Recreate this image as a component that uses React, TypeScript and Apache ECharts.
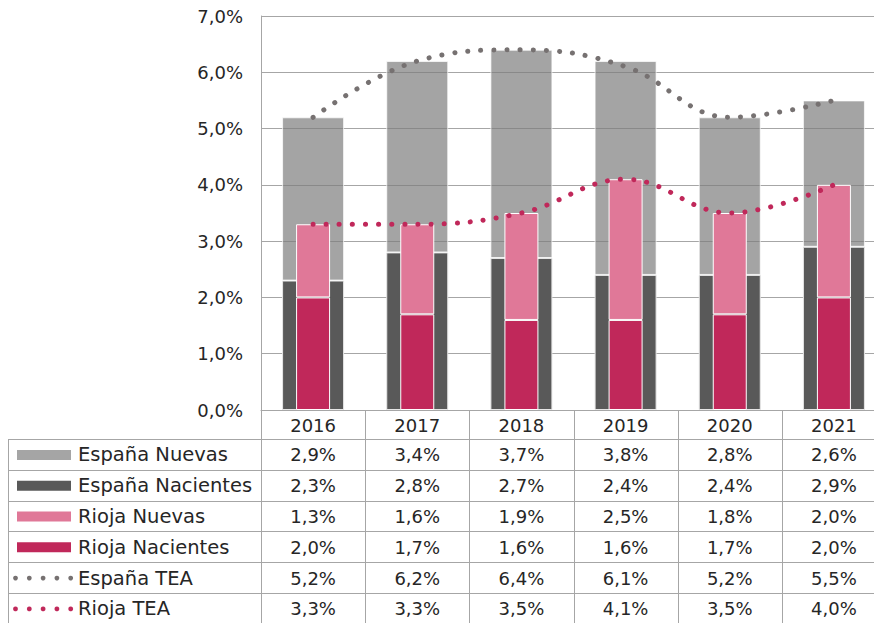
import React, { useEffect, useRef } from 'react';
import * as echarts from 'echarts';

const years = ['2016', '2017', '2018', '2019', '2020', '2021'];
const espanaNuevas = [2.9, 3.4, 3.7, 3.8, 2.8, 2.6];
const espanaNacientes = [2.3, 2.8, 2.7, 2.4, 2.4, 2.9];
const riojaNuevas = [1.3, 1.6, 1.9, 2.5, 1.8, 2.0];
const riojaNacientes = [2.0, 1.7, 1.6, 1.6, 1.7, 2.0];
const espanaTEA = [5.2, 6.2, 6.4, 6.1, 5.2, 5.5];
const riojaTEA = [3.3, 3.3, 3.5, 4.1, 3.5, 4.0];
const yMin = 0;
const yMax = 7;
const yInterval = 1;

const FONT = '"DejaVu Sans", sans-serif';
const TEXT = '#262626';
const GRID_LINE = '#a6a6a6';

const C_ES_NUE = '#7e7e7e';
const C_ES_NAC = '#595959';
const C_RI_NUE = '#e07898';
const C_RI_NAC = '#c0285a';
const C_ES_TEA = '#767171';
const C_RI_TEA = '#c0285a';

const fmt = (v: number) => v.toFixed(1).replace('.', ',') + '%';

export default function App() {
  const ref = useRef<HTMLDivElement>(null);

  useEffect(() => {
    if (!ref.current) return;
    const chart = echarts.init(ref.current, undefined, { renderer: 'svg' });

    const gridLeft = 261;
    const gridTop = 16;
    const gridWidth = 625;
    const gridHeight = 394;
    const colW = gridWidth / years.length;
    const tableTop = gridTop + gridHeight; // 410
    const headerBottom = 439;
    const rowH = 30.8;

    const rows = [
      { name: 'España Nuevas', data: espanaNuevas, color: '#a5a5a5', kind: 'rect' },
      { name: 'España Nacientes', data: espanaNacientes, color: C_ES_NAC, kind: 'rect' },
      { name: 'Rioja Nuevas', data: riojaNuevas, color: C_RI_NUE, kind: 'rect' },
      { name: 'Rioja Nacientes', data: riojaNacientes, color: C_RI_NAC, kind: 'rect' },
      { name: 'España TEA', data: espanaTEA, color: C_ES_TEA, kind: 'dots' },
      { name: 'Rioja TEA', data: riojaTEA, color: C_RI_TEA, kind: 'dots' },
    ];
    const tableBottom = headerBottom + rowH * rows.length;

    const graphics: any[] = [];
    const lineStyle = { stroke: GRID_LINE, lineWidth: 1 };
    for (let r = 0; r <= rows.length; r++) {
      const y = Math.round(headerBottom + r * rowH) + 0.5;
      graphics.push({ type: 'line', shape: { x1: 8, y1: y, x2: gridLeft + gridWidth, y2: y }, style: lineStyle, silent: true });
    }
    graphics.push({ type: 'line', shape: { x1: 8.5, y1: headerBottom, x2: 8.5, y2: tableBottom }, style: lineStyle, silent: true });
    for (let k = 0; k <= years.length; k++) {
      const x = Math.round(gridLeft + k * colW) + 0.5;
      graphics.push({ type: 'line', shape: { x1: x, y1: tableTop, x2: x, y2: tableBottom }, style: lineStyle, silent: true });
    }
    rows.forEach((row, r) => {
      const cy = headerBottom + (r + 0.5) * rowH + 0.5;
      if (row.kind === 'rect') {
        graphics.push({ type: 'rect', shape: { x: 17, y: cy - 5, width: 54, height: 10 }, style: { fill: row.color }, silent: true });
      } else {
        for (let d = 0; d < 5; d++) {
          graphics.push({ type: 'circle', shape: { cx: 15.5 + d * 13.8, cy, r: 2.4 }, style: { fill: row.color }, silent: true });
        }
      }
      graphics.push({
        type: 'text', x: 78, y: cy,
        style: { text: row.name, fill: TEXT, fontSize: 19.5, fontFamily: FONT, align: 'left', verticalAlign: 'middle' },
        silent: true,
      });
      row.data.forEach((v, i) => {
        graphics.push({
          type: 'text', x: gridLeft + (i + 0.5) * colW, y: cy,
          style: { text: fmt(v), fill: TEXT, fontSize: 18, fontFamily: FONT, align: 'center', verticalAlign: 'middle' },
          silent: true,
        });
      });
    });

    const dotLine = (color: string) => ({
      color,
      width: 5,
      type: [0.1, 13] as any,
      cap: 'round' as const,
    });

    chart.setOption({
      animation: false,
      textStyle: { fontFamily: FONT },
      grid: {
        left: gridLeft, top: gridTop, width: gridWidth, height: gridHeight,
        containLabel: false, outerBoundsMode: 'none',
      },
      xAxis: [
        {
          type: 'category',
          data: years,
          axisLine: { lineStyle: { color: GRID_LINE, width: 1 } },
          axisTick: { show: false },
          axisLabel: { color: TEXT, fontSize: 18, fontFamily: FONT, margin: 6 },
        },
        {
          type: 'category',
          data: years,
          show: false,
        },
      ],
      yAxis: {
        type: 'value',
        min: yMin,
        max: yMax,
        interval: yInterval,
        axisLine: { show: true, lineStyle: { color: GRID_LINE, width: 1 } },
        axisTick: { show: false },
        splitLine: { lineStyle: { color: GRID_LINE, width: 1 } },
        axisLabel: { color: TEXT, fontSize: 18, fontFamily: FONT, margin: 18, formatter: (v: number) => fmt(v) },
      },
      series: [
        {
          name: 'España Nacientes', type: 'bar', stack: 'es', xAxisIndex: 0, barWidth: 62,
          data: espanaNacientes,
          itemStyle: { color: C_ES_NAC, borderColor: '#e6e6e6', borderWidth: 1 },
        },
        {
          name: 'España Nuevas', type: 'bar', stack: 'es', xAxisIndex: 0, barWidth: 62,
          data: espanaNuevas,
          itemStyle: { color: C_ES_NUE, opacity: 0.7, borderColor: '#ffffff', borderWidth: 1 },
        },
        {
          name: 'Rioja Nacientes', type: 'bar', stack: 'ri', xAxisIndex: 1, barWidth: 34,
          data: riojaNacientes,
          itemStyle: { color: C_RI_NAC, borderColor: '#ffffff', borderWidth: 1 },
        },
        {
          name: 'Rioja Nuevas', type: 'bar', stack: 'ri', xAxisIndex: 1, barWidth: 34,
          data: riojaNuevas,
          itemStyle: { color: C_RI_NUE, borderColor: '#ffffff', borderWidth: 1 },
        },
        {
          name: 'España TEA', type: 'line', xAxisIndex: 0, smooth: 0.4, symbol: 'none',
          data: espanaTEA, lineStyle: dotLine(C_ES_TEA),
        },
        {
          name: 'Rioja TEA', type: 'line', xAxisIndex: 0, smooth: 0.4, symbol: 'none',
          data: riojaTEA, lineStyle: dotLine(C_RI_TEA),
        },
      ],
      graphic: graphics,
    });

    return () => chart.dispose();
  }, []);

  return (
    <div
      ref={ref}
      style={{ position: 'absolute', left: 0, top: 0, width: 874, height: 623, background: '#fff' }}
    />
  );
}
